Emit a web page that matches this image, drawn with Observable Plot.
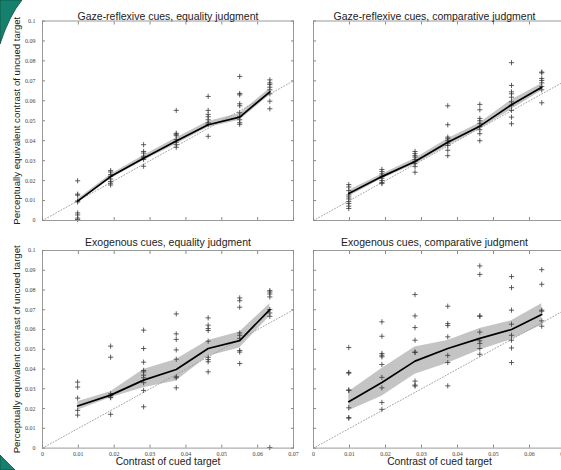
<!DOCTYPE html>
<html>
<head>
<meta charset="utf-8">
<script src="https://cdn.jsdelivr.net/npm/d3@7"></script>
<script src="https://cdn.jsdelivr.net/npm/@observablehq/plot@0.6"></script>
<style>
  html, body { margin: 0; padding: 0; background: #fff; }
  #chart { position: relative; width: 561px; height: 470px; overflow: hidden; background: #fff; }
  .cell { position: absolute; }
  .cell svg { display: block; max-width: none; background: transparent; }
  #corner { position: absolute; left: 0; top: 0; pointer-events: none; }
</style>
</head>
<body>
<div id="chart"></div>
<script>
// ---- data ----
const contrastLevels = [0.0098, 0.0190, 0.0282, 0.0373, 0.0462, 0.0550, 0.0634];
const xTicks = [0, 0.01, 0.02, 0.03, 0.04, 0.05, 0.06, 0.07];
const yTicks = [0, 0.01, 0.02, 0.03, 0.04, 0.05, 0.06, 0.07, 0.08, 0.09, 0.1];
const identityLine = [0, 0.07];

const panelTitles = [
  "Gaze-reflexive cues, equality judgment",
  "Gaze-reflexive cues, comparative judgment",
  "Exogenous cues, equality judgment",
  "Exogenous cues, comparative judgment"
];
const xLabel = "Contrast of cued target";
const yLabel = "Perceptually equivalent contrast of uncued target";

// Gaze-reflexive, equality
const gazeEqPoints = [
  [0.0199, 0.0132, 0.0127, 0.0098, 0.0093, 0.0038, 0.0028, 0.0012, 0.0005],
  [0.0250, 0.0243, 0.0230, 0.0221, 0.0208, 0.0196, 0.0187, 0.0178],
  [0.0380, 0.0346, 0.0338, 0.0322, 0.0315, 0.0306, 0.0272],
  [0.0552, 0.0437, 0.0432, 0.0425, 0.0405, 0.0392, 0.0380, 0.0367],
  [0.0622, 0.0552, 0.0532, 0.0520, 0.0505, 0.0490, 0.0482, 0.0422],
  [0.0722, 0.0637, 0.0630, 0.0585, 0.0575, 0.0540, 0.0522, 0.0505, 0.0490, 0.0482],
  [0.0705, 0.0690, 0.0682, 0.0668, 0.0655, 0.0635, 0.0598, 0.0560]
];
const gazeEqMean = [0.0097, 0.0220, 0.0312, 0.0398, 0.0480, 0.0518, 0.0645];
const gazeEqLow  = [0.0087, 0.0209, 0.0299, 0.0382, 0.0466, 0.0502, 0.0628];
const gazeEqHigh = [0.0107, 0.0230, 0.0326, 0.0414, 0.0496, 0.0536, 0.0662];

// Gaze-reflexive, comparative
const gazeCmpPoints = [
  [0.0180, 0.0168, 0.0150, 0.0128, 0.0118, 0.0108, 0.0095, 0.0085, 0.0072, 0.0060],
  [0.0256, 0.0245, 0.0234, 0.0222, 0.0212, 0.0200, 0.0190, 0.0185],
  [0.0346, 0.0335, 0.0325, 0.0318, 0.0305, 0.0295, 0.0285, 0.0270, 0.0242],
  [0.0575, 0.0480, 0.0418, 0.0410, 0.0400, 0.0388, 0.0376, 0.0352, 0.0325],
  [0.0582, 0.0555, 0.0512, 0.0500, 0.0487, 0.0472, 0.0455, 0.0435, 0.0400],
  [0.0791, 0.0677, 0.0645, 0.0635, 0.0618, 0.0595, 0.0578, 0.0552, 0.0518, 0.0485],
  [0.0744, 0.0740, 0.0712, 0.0702, 0.0690, 0.0672, 0.0655, 0.0590]
];
const gazeCmpMean = [0.0135, 0.0220, 0.0296, 0.0392, 0.0473, 0.0580, 0.0668];
const gazeCmpLow  = [0.0120, 0.0208, 0.0281, 0.0374, 0.0457, 0.0556, 0.0650];
const gazeCmpHigh = [0.0150, 0.0232, 0.0311, 0.0410, 0.0489, 0.0604, 0.0686];

// Exogenous, equality
const exoEqPoints = [
  [0.0334, 0.0309, 0.0253, 0.0191, 0.0167],
  [0.0516, 0.0460, 0.0275, 0.0267, 0.0258, 0.0255, 0.0171],
  [0.0597, 0.0504, 0.0435, 0.0393, 0.0386, 0.0369, 0.0356, 0.0331, 0.0292, 0.0209],
  [0.0679, 0.0578, 0.0550, 0.0497, 0.0450, 0.0361, 0.0356, 0.0305],
  [0.0659, 0.0622, 0.0605, 0.0595, 0.0541, 0.0460, 0.0448, 0.0437, 0.0386],
  [0.0760, 0.0746, 0.0713, 0.0583, 0.0571, 0.0555, 0.0494, 0.0486, 0.0428],
  [0.0797, 0.0790, 0.0780, 0.0765, 0.0701, 0.0684, 0.0667, 0.0003]
];
const exoEqMean = [0.0213, 0.0268, 0.0344, 0.0398, 0.0504, 0.0544, 0.0701];
const exoEqLow  = [0.0191, 0.0255, 0.0305, 0.0339, 0.0465, 0.0507, 0.0667];
const exoEqHigh = [0.0235, 0.0285, 0.0398, 0.0448, 0.0544, 0.0587, 0.0730];

// Exogenous, comparative
const exoCmpPoints = [
  [0.0509, 0.0383, 0.0379, 0.0294, 0.0292, 0.0204, 0.0154, 0.0152],
  [0.0639, 0.0566, 0.0479, 0.0470, 0.0462, 0.0423, 0.0358, 0.0305, 0.0231, 0.0196],
  [0.0777, 0.0669, 0.0610, 0.0546, 0.0486, 0.0484, 0.0339, 0.0319, 0.0314],
  [0.0718, 0.0630, 0.0620, 0.0563, 0.0469, 0.0433, 0.0315],
  [0.0922, 0.0879, 0.0669, 0.0667, 0.0587, 0.0543, 0.0529, 0.0504, 0.0475],
  [0.0868, 0.0812, 0.0698, 0.0627, 0.0571, 0.0546, 0.0507, 0.0433],
  [0.0903, 0.0829, 0.0698, 0.0693, 0.0644, 0.0617]
];
const exoCmpMean = [0.0235, 0.0332, 0.0440, 0.0504, 0.0555, 0.0600, 0.0676];
const exoCmpLow  = [0.0189, 0.0263, 0.0374, 0.0430, 0.0496, 0.0549, 0.0622];
const exoCmpHigh = [0.0285, 0.0403, 0.0512, 0.0545, 0.0605, 0.0644, 0.0731];

// ---- drawing ----
const sans = "'Liberation Sans', Arial, Helvetica, sans-serif";
const serif = "'Liberation Serif', 'Times New Roman', serif";
const fmt = d => String(+d.toFixed(2));
const blank = () => "";

function panel({title, points, mean, lo, hi, showX, showY, top, left}) {
  const pts = points.flatMap((col, i) => col.map(v => ({x: contrastLevels[i], y: v})));
  const summary = contrastLevels.map((x, i) => ({x, mean: mean[i], lo: lo[i], hi: hi[i]}));
  const width = left ? 300 : 280;
  const height = top ? 232 : 240;
  const marks = [
    Plot.areaY(summary, {x: "x", y1: "lo", y2: "hi", fill: "#c4c4c4"}),
    Plot.line(identityLine, {x: d => d, y: d => d, stroke: "#9a9a9a", strokeWidth: 0.9, strokeDasharray: "1,2"}),
    Plot.dot(pts, {x: "x", y: "y", symbol: "plus", r: 1.8, stroke: "#3a3a3a", strokeWidth: 0.8}),
    Plot.line(summary, {x: "x", y: "mean", stroke: "#000", strokeWidth: 1.7}),
    Plot.frame({stroke: "#9a9a9a", strokeWidth: 1}),
    Plot.axisY(yTicks, {anchor: "left", tickSize: -3, tickPadding: 10, tickFormat: showY ? fmt : blank,
      label: null, stroke: "#8a8a8a", fill: "#444", fontSize: 6, fontFamily: serif}),
    Plot.axisY(yTicks, {anchor: "right", tickSize: -3, tickFormat: blank, label: null, stroke: "#8a8a8a"}),
    Plot.axisX(xTicks, {anchor: "bottom", tickSize: -3, tickPadding: 6.5, tickFormat: showX ? fmt : blank,
      label: null, stroke: "#8a8a8a", fill: "#444", fontSize: 6, fontFamily: serif}),
    Plot.axisX(xTicks, {anchor: "top", tickSize: -3, tickFormat: blank, label: null, stroke: "#8a8a8a"}),
    Plot.text([title], {text: d => d, frameAnchor: "top", dy: top ? -8 : -11.5, dx: left ? 0 : -5,
      textAnchor: "middle", fontSize: 10.5, fontFamily: sans, fill: "#222"})
  ];
  if (showY) marks.push(Plot.text([yLabel], {text: d => d, frameAnchor: "left", dx: -26, rotate: -90,
      textAnchor: "middle", fontSize: 9.6, fontFamily: sans, fill: "#222"}));
  if (showX) marks.push(Plot.text([xLabel], {text: d => d, frameAnchor: "bottom", dy: 16.5,
      textAnchor: "middle", fontSize: 10.3, fontFamily: sans, fill: "#222"}));
  return Plot.plot({
    width, height,
    marginLeft: left ? 42 : 20,
    marginRight: left ? 7 : 8,
    marginTop: top ? 20.5 : 20,
    marginBottom: top ? 12 : 22.4,
    x: {domain: [0, 0.07]},
    y: {domain: [0, 0.1]},
    style: {background: "transparent", overflow: "visible"},
    marks
  });
}

const chart = document.getElementById("chart");
const cells = [
  {title: panelTitles[0], points: gazeEqPoints, mean: gazeEqMean, lo: gazeEqLow, hi: gazeEqHigh, showX: false, showY: true, top: true, left: true, px: 0, py: 0},
  {title: panelTitles[1], points: gazeCmpPoints, mean: gazeCmpMean, lo: gazeCmpLow, hi: gazeCmpHigh, showX: false, showY: false, top: true, left: false, px: 293, py: 0},
  {title: panelTitles[2], points: exoEqPoints, mean: exoEqMean, lo: exoEqLow, hi: exoEqHigh, showX: true, showY: true, top: false, left: true, px: 0, py: 230},
  {title: panelTitles[3], points: exoCmpPoints, mean: exoCmpMean, lo: exoCmpLow, hi: exoCmpHigh, showX: true, showY: false, top: false, left: false, px: 293, py: 230}
];
for (const c of cells) {
  const div = document.createElement("div");
  div.className = "cell";
  div.style.left = c.px + "px";
  div.style.top = c.py + "px";
  div.appendChild(panel(c));
  chart.appendChild(div);
}

// decorative teal page corners seen in the source scan (not data)
const ns = "http://www.w3.org/2000/svg";
const deco = document.createElementNS(ns, "svg");
deco.setAttribute("id", "corner");
deco.setAttribute("width", "561");
deco.setAttribute("height", "470");
deco.innerHTML =
  '<path d="M0,0 L22,0 Q9,16 0,44 Z" fill="#15806d" stroke="#0c4f44" stroke-width="0.8"/>' +
  '<path d="M0,455 L15,470 L0,470 Z" fill="#15806d" stroke="#0c4f44" stroke-width="0.8"/>';
chart.appendChild(deco);
</script>
</body>
</html>
